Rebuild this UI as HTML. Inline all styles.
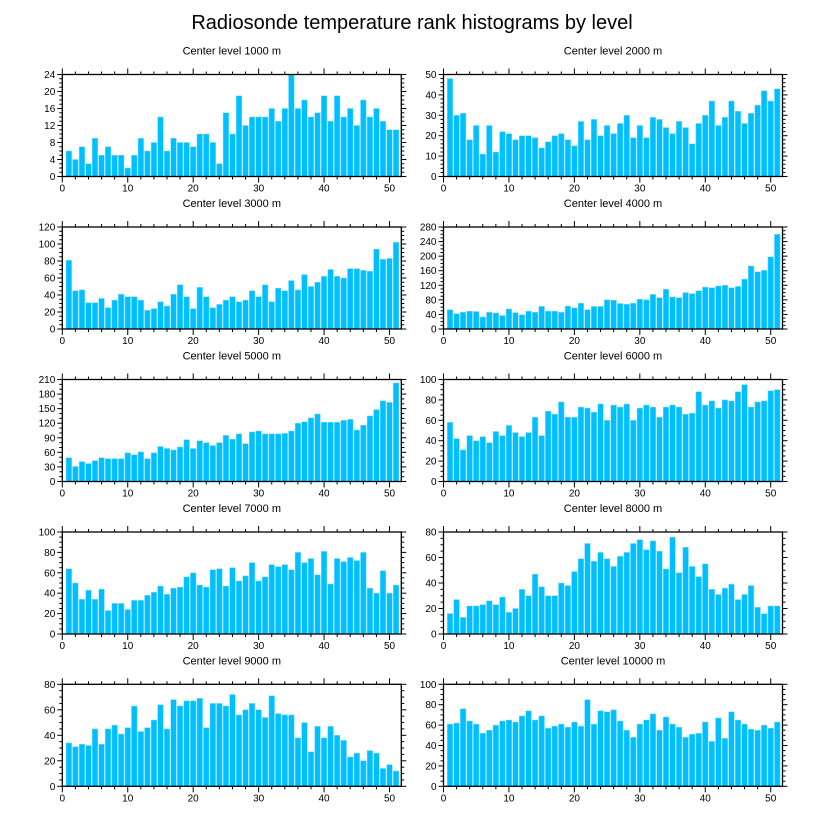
<!DOCTYPE html>
<html><head><meta charset="utf-8">
<style>
html,body{margin:0;padding:0;background:#fff;}
svg{display:block;font-family:"Liberation Sans",Arial,sans-serif;}
</style></head>
<body>
<svg id="chart" width="824" height="824" viewBox="0 0 824 824">
<text x="412" y="29" text-anchor="middle" font-size="20" fill="#000">Radiosonde temperature rank histograms by level</text>
</svg>
<script>
const levels = ["1000","2000","3000","4000","5000","6000","7000","8000","9000","10000"];
const yMaxes = [24,50,120,280,210,100,100,80,80,100];
const yMajor = [4,10,20,40,30,20,20,20,20,20];
const yMinorN = [4,5,4,4,3,4,4,4,4,4];
const xTicks = [0,10,20,30,40,50];
const v1000 = [6,4,7,3,9,5,7,5,5,2,5,9,6,8,14,6,9,8,8,7,10,10,8,3,15,10,19,12,14,14,14,16,13,16,24,16,18,14,15,19,13,19,14,16,12,18,14,16,13,11,11];
const v2000 = [48,30,31,18,25,11,25,12,22,21,18,20,20,19,14,17,20,21,18,15,27,18,28,20,25,21,26,30,19,25,19,29,28,24,21,27,24,16,26,30,37,25,29,37,32,26,31,35,42,37,43];
const v3000 = [81,45,46,31,31,36,25,34,41,38,38,34,22,24,32,27,41,52,38,24,49,38,25,29,34,38,32,34,45,38,52,32,48,45,57,46,64,50,55,62,70,62,60,71,71,69,68,94,82,83,102];
const v4000 = [53,42,46,49,48,33,46,44,37,55,45,39,49,46,62,49,49,46,63,58,71,53,62,62,80,79,70,68,71,82,80,95,86,109,88,86,100,97,105,115,113,118,120,113,117,137,173,157,161,198,260];
const v5000 = [49,31,41,37,43,49,47,47,47,59,55,61,47,59,72,68,65,71,86,68,84,80,74,80,95,87,98,78,102,104,98,98,98,99,104,120,123,131,139,122,122,122,126,128,106,116,135,148,166,163,203];
const v6000 = [58,42,31,45,40,44,38,49,45,55,48,44,48,63,45,69,66,78,63,63,73,72,68,76,60,75,73,76,60,72,75,73,63,73,75,73,66,67,88,75,79,72,80,79,88,95,73,78,79,89,90];
const v7000 = [64,50,34,43,34,44,23,30,30,24,33,33,38,41,47,39,45,46,56,60,48,46,63,64,47,65,52,57,70,52,56,68,66,68,63,80,70,74,58,81,49,74,71,75,72,80,45,40,62,40,48];
const v8000 = [16,27,13,22,22,23,26,23,29,17,20,35,30,47,37,30,30,40,38,49,59,71,57,64,59,53,61,64,71,74,66,73,65,51,76,48,68,53,45,55,35,31,36,39,27,31,38,21,16,22,22];
const v9000 = [34,31,33,32,45,33,45,48,41,46,63,43,46,52,64,45,68,63,67,67,69,46,65,65,63,72,56,60,65,60,54,71,57,56,56,38,50,27,47,38,47,40,36,23,26,20,28,26,14,17,12];
const v10000 = [61,62,76,64,61,52,55,60,64,65,63,69,74,65,69,57,59,61,58,63,59,85,61,74,73,75,64,55,48,61,65,71,55,68,61,58,48,51,52,63,44,67,47,73,65,61,56,55,60,57,63];
const series = [v1000,v2000,v3000,v4000,v5000,v6000,v7000,v8000,v9000,v10000];

const NS = "http://www.w3.org/2000/svg";
const svg = document.getElementById("chart");
function mk(tag, attrs, parent){const e=document.createElementNS(NS,tag);for(const k in attrs)e.setAttribute(k,attrs[k]);(parent||svg).appendChild(e);return e;}

const X0 = [62.3, 443.5], PW = 339, PH = 102;
const TOPS = [74.5, 227, 379.5, 532, 684.3];
const XMAX = 51.8;

series.forEach((vals, p) => {
  const col = p % 2, row = Math.floor(p / 2);
  const left = X0[col], top = TOPS[row], bottom = top + PH, right = left + PW;
  const ymax = yMaxes[p];
  const xs = v => left + v / XMAX * PW;
  const ys = v => bottom - v / ymax * PH;
  const g = mk("g", {});
  
  

  const t = mk("text", {x:(left+right)/2, y: top-20, "text-anchor":"middle", "font-size":"11"}, g);
  
  
  t.textContent = "Center level " + levels[p] + " m";

  vals.forEach((v, i) => {
    const cx = xs(i + 1), w = 0.86 / XMAX * PW;
    const r = mk("rect", {x: cx - w/2, y: ys(v), width: w, height: bottom - ys(v), fill: "#00bfff", stroke:"#7fdcff", "stroke-width":"0.5"}, g);
    
    
  });

  const frame = mk("rect", {x:left, y:top, width:PW, height:PH, fill:"none", stroke:"#000", "stroke-width":"1.3"}, g);
  
  

  for (let v = 0; v <= XMAX; v += 2) {
    const major = v % 10 === 0, L = major ? 6 : 3, x = xs(v);
    mk("line", {x1:x, x2:x, y1:bottom, y2:bottom+L, stroke:"#000", "stroke-width":"1"}, g);
    mk("line", {x1:x, x2:x, y1:top, y2:top-L, stroke:"#000", "stroke-width":"1"}, g);
  }
  xTicks.forEach(v => {
    const tl = mk("text", {x: xs(v), y: bottom+15, "text-anchor":"middle", "font-size":"10"}, g);
    
    
    tl.textContent = v;
  });
  const step = yMajor[p] / yMinorN[p];
  for (let k = 0; k * step <= ymax + 1e-9; k++) {
    const v = k * step, major = k % yMinorN[p] === 0, L = major ? 5 : 3, y = ys(v);
    mk("line", {x1:left, x2:left-L, y1:y, y2:y, stroke:"#000", "stroke-width":"1"}, g);
    mk("line", {x1:right, x2:right+L, y1:y, y2:y, stroke:"#000", "stroke-width":"1"}, g);
    if (major) {
      const yl = mk("text", {x:left-7, y:y+3.5, "text-anchor":"end", "font-size":"10"}, g);
      
      
      yl.textContent = v;
    }
  }
});
</script>
</body></html>
